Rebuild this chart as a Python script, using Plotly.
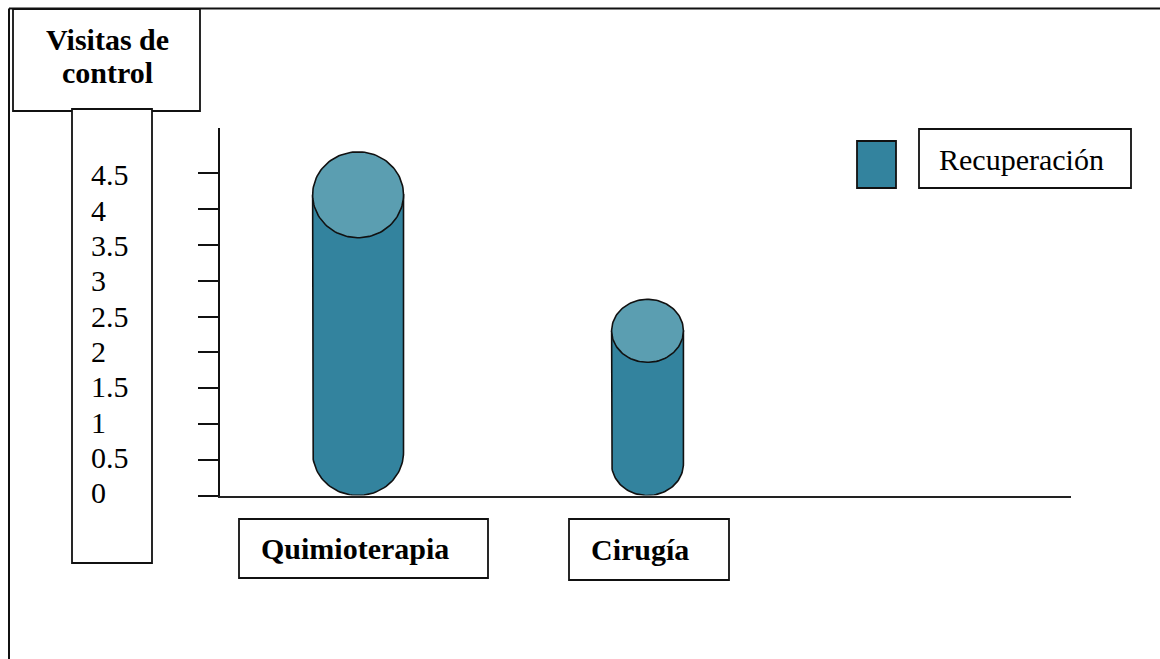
import numpy as np
import plotly.graph_objects as go

# ---- data ----
categories = ["Quimioterapia", "Cirugía"]
series_name = "Recuperación"
values = [4.2, 2.3]
tick_values = [0, 0.5, 1, 1.5, 2, 2.5, 3, 3.5, 4, 4.5]
tick_labels = ["4.5", "4", "3.5", "3", "2.5", "2", "1.5", "1", "0.5", "0"]
axis_title = ["Visitas de", "control"]

# ---- styling ----
W, H = 1160, 659
FONT = "Liberation Serif"
FS = 30
BODY = "#33839E"
CAP = "#5B9EB1"
EDGE = "#111111"
bar_halfwidths = [0.157, 0.124]   # x units
cap_halfheights = [0.60, 0.44]    # y units


def px(x):
    return x / W


def py(y):
    return 1 - y / H


fig = go.Figure()

# cylinders: body (with rounded bottom) and a lighter top ellipse
t_low = np.linspace(np.pi, 2 * np.pi, 60)
t_full = np.linspace(0, 2 * np.pi, 120)
for i, (cat, v) in enumerate(zip(categories, values)):
    cx = i + 1
    a = bar_halfwidths[i]
    b = cap_halfheights[i]
    bx = np.concatenate([[cx - a], cx + a * np.cos(t_low), [cx + a, cx - a]])
    by = np.concatenate([[v], b + b * np.sin(t_low), [v, v]])
    fig.add_trace(go.Scatter(x=bx, y=by, mode="lines", fill="toself",
                             fillcolor=BODY, line=dict(color=EDGE, width=1.6),
                             hoverinfo="skip", showlegend=False))
    fig.add_trace(go.Scatter(x=cx + a * np.cos(t_full), y=v + b * np.sin(t_full),
                             mode="lines", fill="toself", fillcolor=CAP,
                             line=dict(color=EDGE, width=1.6), name=cat,
                             hoverinfo="skip", showlegend=False))

# plot area geometry (pixels)
x_left, x_right = 220, 1071
y_zero, y_top = 495.5, 128
unit_px = 71.6

fig.update_layout(
    width=W, height=H,
    margin=dict(l=0, r=0, t=0, b=0),
    paper_bgcolor="white", plot_bgcolor="white",
    showlegend=False,
    xaxis=dict(domain=[px(x_left), px(x_right)], range=[0.523, 3.463],
               showgrid=False, zeroline=False, showticklabels=False,
               showline=True, linecolor="#222222", linewidth=2, ticks=""),
    yaxis=dict(domain=[py(y_zero), py(y_top)],
               range=[0, (y_zero - y_top) / unit_px],
               showgrid=False, zeroline=False, showticklabels=False,
               showline=True, linecolor="#111111", linewidth=2,
               ticks="outside", ticklen=20, tickwidth=2, tickcolor="#111111",
               tickvals=tick_values),
)

shapes = []
annotations = []


def box(x0, y0, x1, y1, fill=None, width=1.8):
    shapes.append(dict(type="rect", xref="paper", yref="paper",
                       x0=px(x0), x1=px(x1), y0=py(y1), y1=py(y0),
                       line=dict(color=EDGE, width=width),
                       fillcolor=fill if fill else "rgba(0,0,0,0)"))


def text(s, x, y, bold=False, xanchor="left"):
    annotations.append(dict(text=f"<b>{s}</b>" if bold else s,
                            x=px(x), y=py(y), xref="paper", yref="paper",
                            xanchor=xanchor, yanchor="middle", showarrow=False,
                            font=dict(family=FONT, size=FS, color="black")))


# outer frame (top and left edges)
shapes.append(dict(type="line", xref="paper", yref="paper",
                   x0=px(9), x1=1, y0=py(8.5), y1=py(8.5),
                   line=dict(color=EDGE, width=2)))
shapes.append(dict(type="line", xref="paper", yref="paper",
                   x0=px(9), x1=px(9), y0=py(8.5), y1=0,
                   line=dict(color=EDGE, width=2)))

# axis title box
box(13, 9, 200, 111, fill="white")
text(axis_title[0], 107, 39, bold=True, xanchor="center")
text(axis_title[1], 107, 73, bold=True, xanchor="center")

# value labels box
box(72, 109, 152, 563, fill="white")
for k, lab in enumerate(tick_labels):
    text(lab, 89, 175 + k * 35.3)

# category boxes
box(239, 519, 488, 578)
text(categories[0], 259, 548, bold=True)
box(569, 519, 729, 580)
text(categories[1], 589, 549, bold=True)

# legend
box(857, 141, 896, 188, fill=BODY)
box(919, 129, 1131, 188)
text(series_name, 937, 160)

fig.update_layout(shapes=shapes, annotations=annotations)
fig.write_html("out.html")
